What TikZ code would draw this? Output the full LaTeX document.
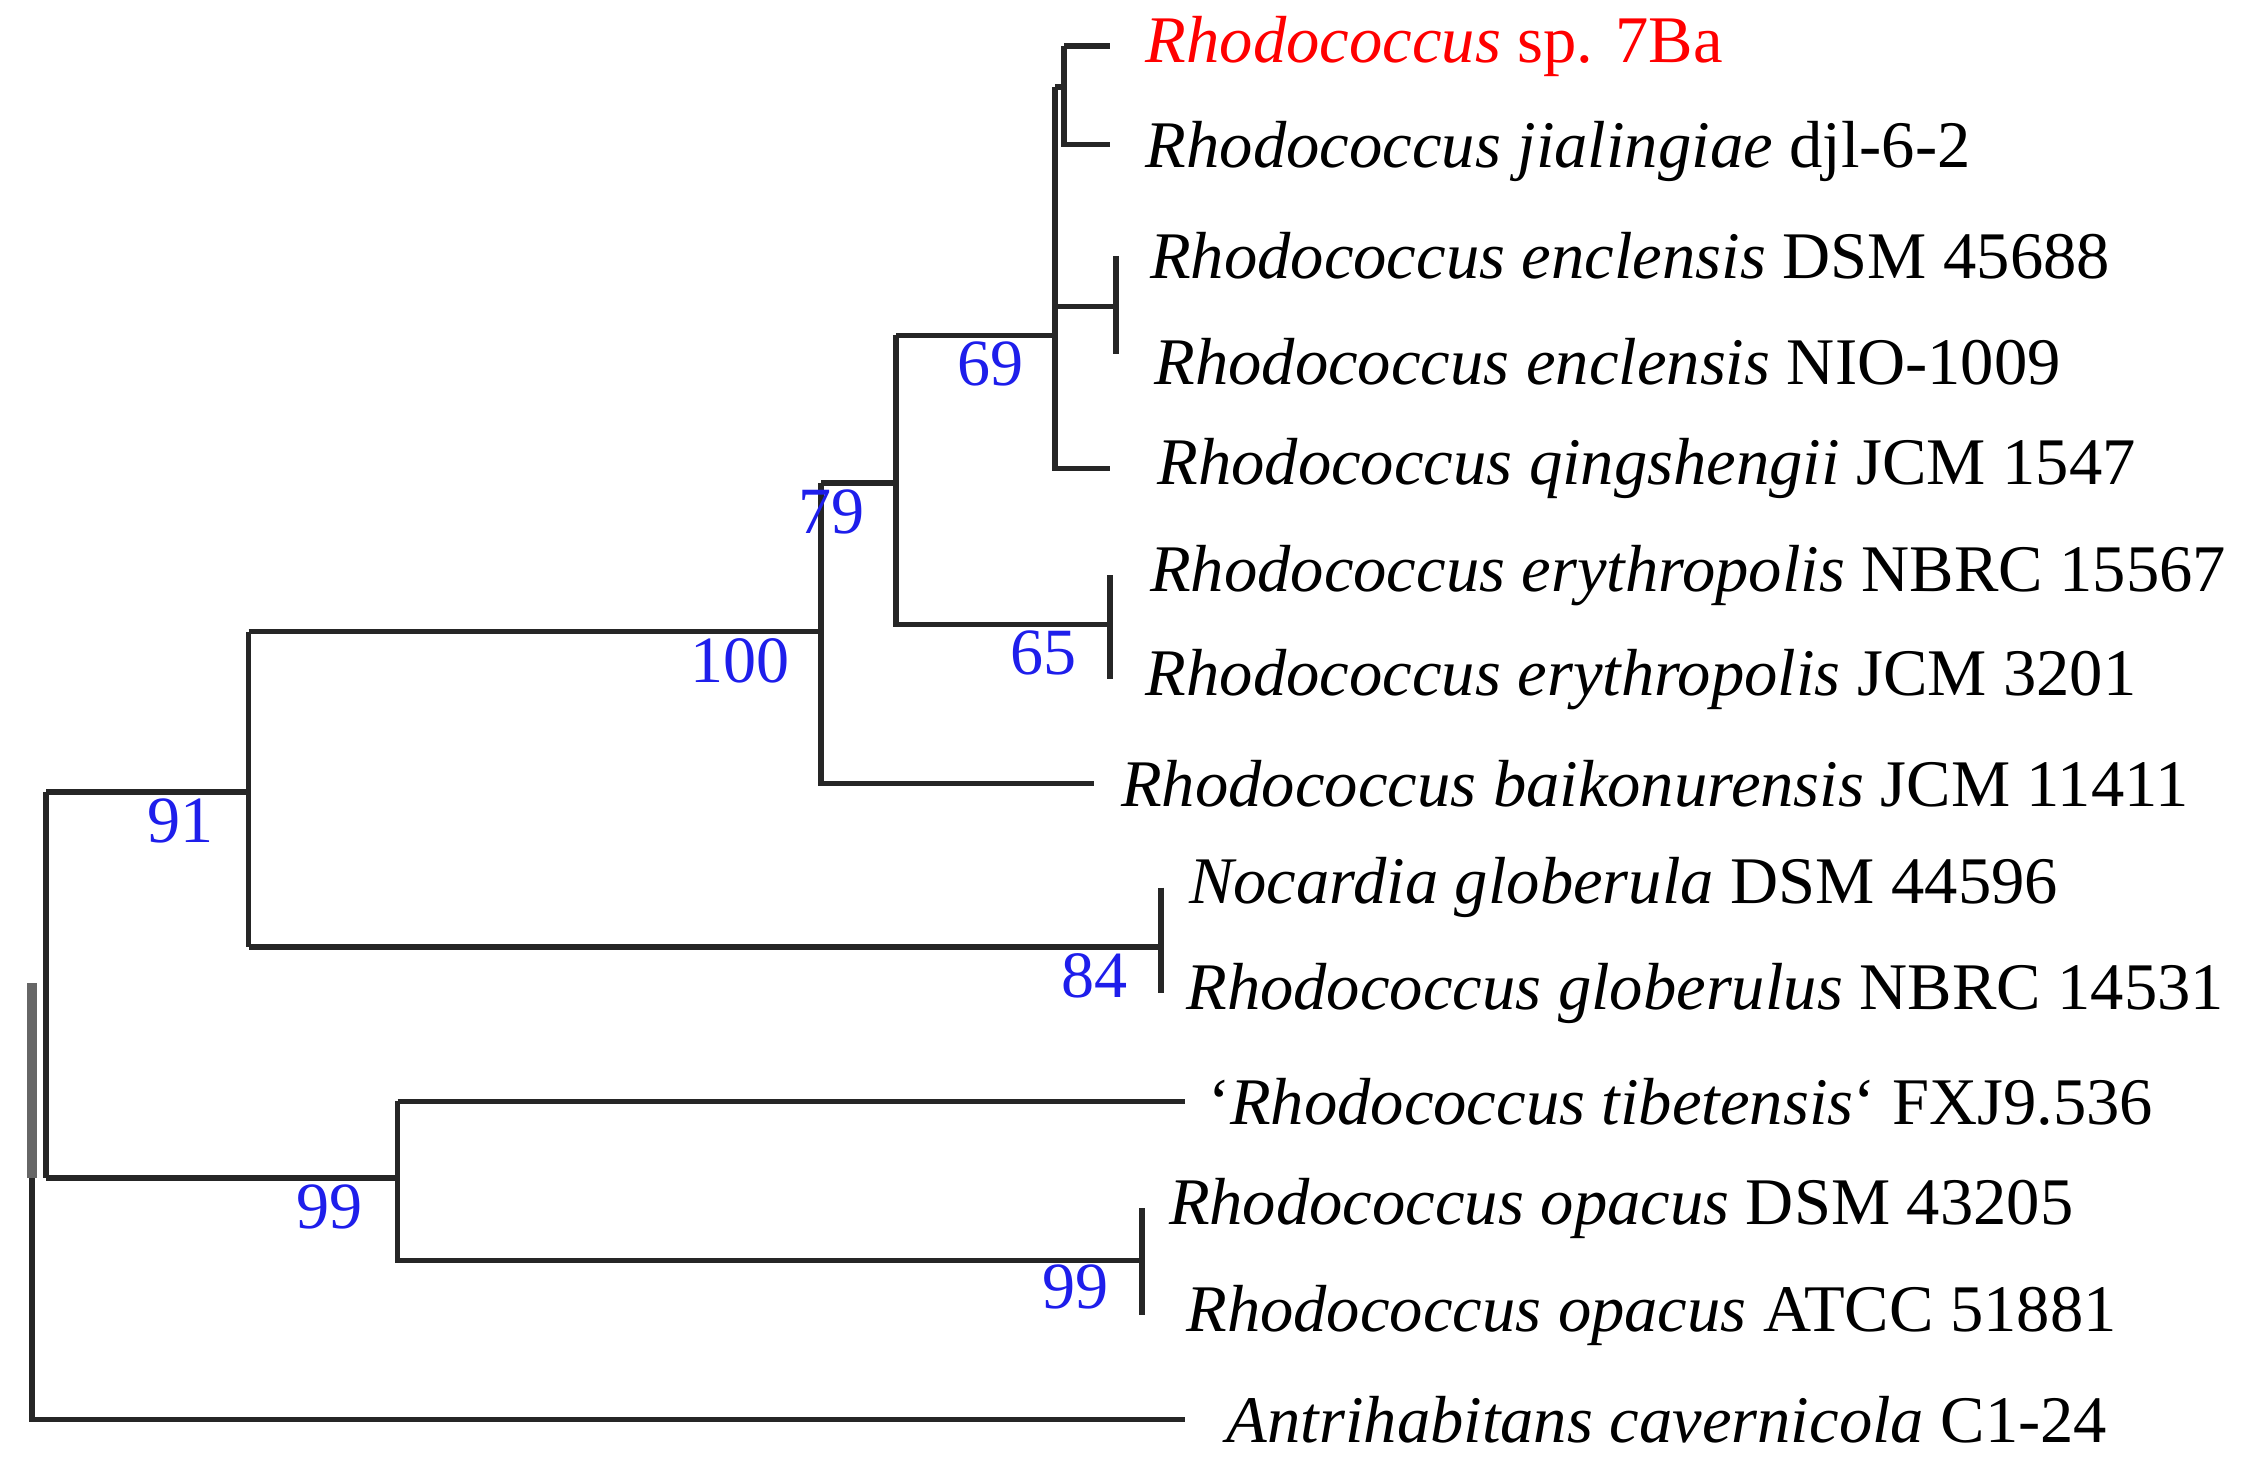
\documentclass[tikz,border=0pt]{standalone}
\usepackage{fontspec}
\setmainfont{Liberation Serif}
\usepackage{tikz}
\definecolor{bootblue}{RGB}{30,30,235}
\tikzset{
  branch/.style={black!85, line width=1.1pt},
  taxon/.style={anchor=west, inner sep=0pt, font=\fontsize{13.1}{15}\selectfont},
  boot/.style={text=bootblue, inner sep=0pt, font=\fontsize{13}{15}\selectfont}
}
\begin{document}
\begin{tikzpicture}[x=0.01cm, y=-0.01cm]
        \useasboundingbox (0,0) rectangle (1560,1022);
        % internal nodes
        \coordinate (root) at (22,680);
        \coordinate (n32) at (32,680);
        \coordinate (n91) at (172,548);
        \coordinate (n99a) at (275,815);
        \coordinate (n100) at (568,437);
        \coordinate (n84) at (803,655);
        \coordinate (n79) at (620,334);
        \coordinate (n69) at (730,232);
        \coordinate (n65) at (768,432);
        \coordinate (n7ba) at (736,60);
        \coordinate (nencl) at (772,212);
        \coordinate (n99b) at (790,872);

        % leaves
        \node[taxon, text=red] (t1) at (792,32) {\textit{Rhodococcus} sp. 7Ba};
        \node[taxon] (t2) at (792,105) {\textit{Rhodococcus jialingiae} djl-6-2};
        \node[taxon] (t3) at (795,177) {\textit{Rhodococcus enclensis} DSM 45688};
        \node[taxon] (t4) at (798,250) {\textit{Rhodococcus enclensis} NIO-1009};
        \node[taxon] (t5) at (800,324) {\textit{Rhodococcus qingshengii} JCM 1547};
        \node[taxon] (t6) at (795,398) {\textit{Rhodococcus erythropolis} NBRC 15567};
        \node[taxon] (t7) at (792,470) {\textit{Rhodococcus erythropolis} JCM 3201};
        \node[taxon] (t8) at (775,542) {\textit{Rhodococcus baikonurensis} JCM 11411};
        \node[taxon] (t9) at (822,614) {\textit{Nocardia globerula} DSM 44596};
        \node[taxon] (t10) at (820,687) {\textit{Rhodococcus globerulus} NBRC 14531};
        \node[taxon] (t11) at (835,762) {`\textit{Rhodococcus tibetensis}` FXJ9.536};
        \node[taxon] (t12) at (808,836) {\textit{Rhodococcus opacus} DSM 43205};
        \node[taxon] (t13) at (820,910) {\textit{Rhodococcus opacus} ATCC 51881};
        \node[taxon] (t14) at (848,982) {\textit{Antrihabitans cavernicola} C1-24};

        % branches
        \draw[branch] (n32 |- n91) -- (n32 |- n99a);
        \draw[branch, line width=2pt, black!60] (root) -- (root |- n99a);
        \draw[branch] (root |- n99a) -- (root |- t14) -- (820,982);
        \draw[branch] (n32 |- n91) -- (n91);
        \draw[branch] (n32 |- n99a) -- (n99a);
        \draw[branch] (n91 |- n100) -- (n91 |- n84);
        \draw[branch] (n91 |- n100) -- (n100);
        \draw[branch] (n91 |- n84) -- (n84);
        \draw[branch] (n84 |- t9) -- (n84 |- t10);
        \draw[branch] (n100 |- n79) -- (n100 |- t8) -- (757,542);
        \draw[branch] (n100 |- n79) -- (n79);
        \draw[branch] (n79 |- n69) -- (n79 |- n65) -- (n65);
        \draw[branch] (n79 |- n69) -- (n69);
        \draw[branch] (n65 |- t6) -- (n65 |- t7);
        \draw[branch] (n69 |- n7ba) -- (n69 |- t5) -- (768,324);
        \draw[branch] (n69 |- nencl) -- (nencl);
        \draw[branch] (nencl |- t3) -- (nencl |- 0,245);
        \draw[branch] (n69 |- n7ba) -- (n7ba);
        \draw[branch] (n7ba |- t1) -- (n7ba |- 0,100) -- (768,100);
        \draw[branch] (n7ba |- t1) -- (768,32);
        \draw[branch] (n99a |- t11) -- (n99a |- n99b) -- (n99b);
        \draw[branch] (n99a |- t11) -- (820,762);
        \draw[branch] (n99b |- t12) -- (n99b |- t13);

        % bootstrap values
        \node[boot] (b69) at (685,252) {69};
        \node[boot] (b79) at (575,354) {79};
        \node[boot] (b100) at (512,457) {100};
        \node[boot] (b65) at (722,452) {65};
        \node[boot] (b91) at (125,568) {91};
        \node[boot] (b84) at (757,675) {84};
        \node[boot] (b99a) at (228,835) {99};
        \node[boot] (b99b) at (744,890) {99};
\end{tikzpicture}
\end{document}
